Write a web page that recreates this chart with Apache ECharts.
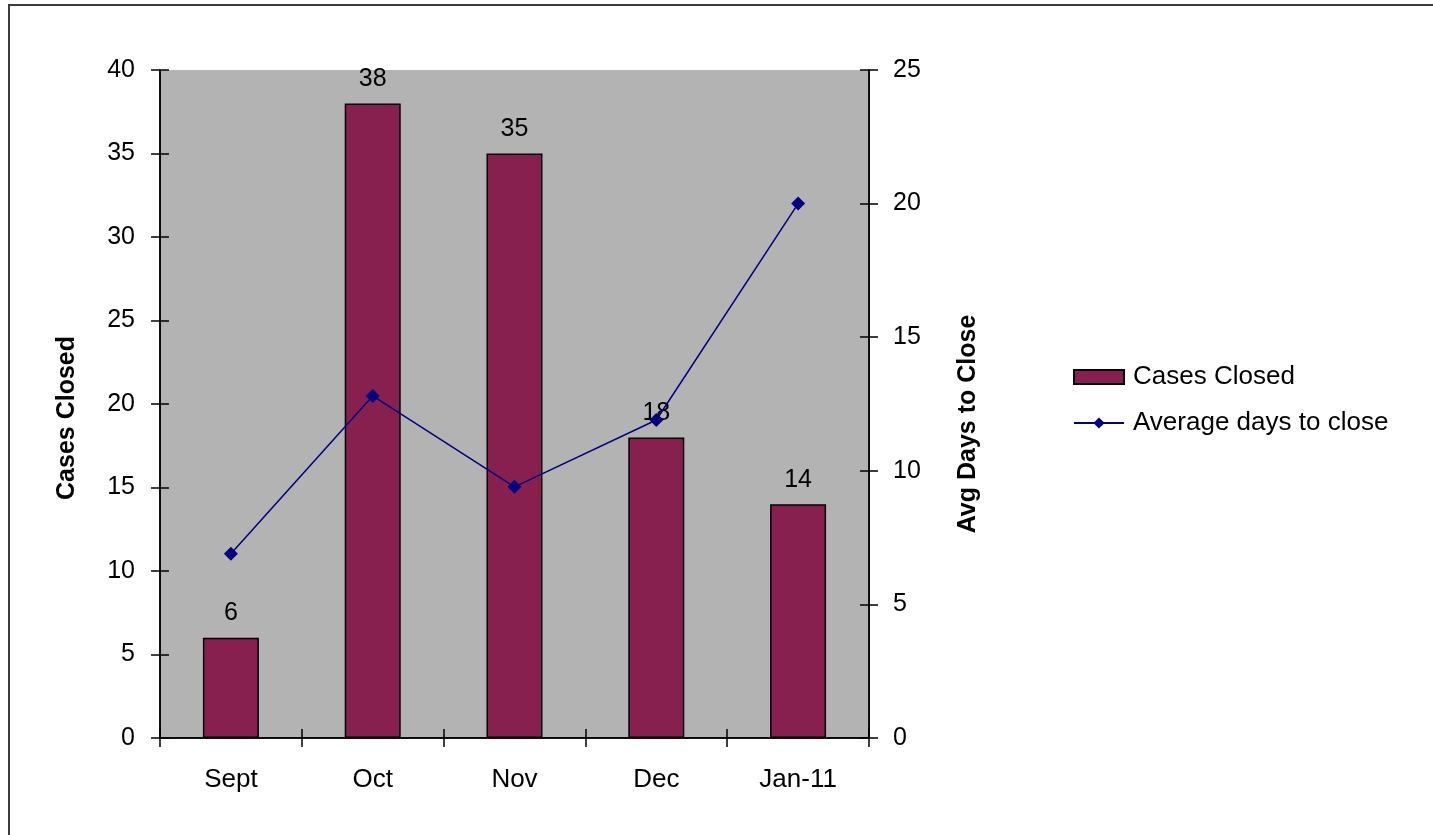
<!DOCTYPE html>
<html>
<head>
<meta charset="utf-8">
<script src="https://cdn.jsdelivr.net/npm/echarts@6/dist/echarts.min.js"></script>
<style>
  html, body { margin: 0; padding: 0; background: #fff; }
  #chart { width: 1433px; height: 835px; }
</style>
</head>
<body>
<div id="chart"></div>
<script>
// Monthly case figures
const months = ['Sept', 'Oct', 'Nov', 'Dec', 'Jan-11'];
const casesClosed = [6, 38, 35, 18, 14];
const avgDaysToClose = [6.9, 12.8, 9.4, 11.9, 20];

const FONT = '"Liberation Sans", Arial, sans-serif';
const txt = { color: '#000', fontFamily: FONT, fontSize: 25 };

const chart = echarts.init(document.getElementById('chart'), null, { renderer: 'canvas' });

// Ticks cross the axis line: the main grid's axes draw ticks outward and an
// overlaid twin grid (same rectangle, same lines, no labels) draws them inward.
const TICK = 9;
const tickOut = { show: true, inside: false, length: TICK, lineStyle: { color: '#000', width: 1.5 } };
const tickIn = { show: true, inside: true, length: TICK, lineStyle: { color: '#000', width: 1.5 } };
const axisLineStyle = { show: true, onZero: false, lineStyle: { color: '#000', width: 1.5 } };
const plotRect = { left: 160, right: 564, top: 70, bottom: 97 };

chart.setOption({
  backgroundColor: '#fff',
  animation: false,
  textStyle: { fontFamily: FONT },
  graphic: [{
    type: 'rect',
    shape: { x: 9, y: 5, width: 1500, height: 900 },
    style: { fill: 'none', stroke: '#3c3c3c', lineWidth: 2 },
    silent: true
  }],
  grid: [
    Object.assign({ show: true, backgroundColor: '#b3b3b3', borderWidth: 0 }, plotRect),
    Object.assign({ show: false }, plotRect)
  ],
  legend: {
    orient: 'vertical',
    left: 1073, top: 364,
    padding: 0,
    itemWidth: 50, itemHeight: 14, itemGap: 20,
    textStyle: Object.assign({}, txt, { fontSize: 26, padding: [0, 0, 0, 4] }),
    data: [
      { name: 'Cases Closed', icon: 'rect' },
      { name: 'Average days to close' }
    ]
  },
  xAxis: [{
    type: 'category',
    gridIndex: 0,
    data: months,
    position: 'bottom',
    boundaryGap: true,
    axisLine: axisLineStyle,
    axisTick: tickOut,
    axisLabel: Object.assign({}, txt, { fontSize: 26, margin: 29 }),
    splitLine: { show: false }
  }, {
    type: 'category',
    gridIndex: 1,
    data: months,
    position: 'bottom',
    boundaryGap: true,
    axisLine: axisLineStyle,
    axisTick: tickIn,
    axisLabel: { show: false },
    splitLine: { show: false }
  }],
  yAxis: [{
    type: 'value',
    gridIndex: 0,
    position: 'left',
    min: 0, max: 40, interval: 5,
    name: 'Cases Closed',
    nameLocation: 'middle',
    nameGap: 80,
    nameRotate: 90,
    nameTextStyle: { color: '#000', fontFamily: FONT, fontSize: 25, fontWeight: 'bold', padding: [0, 28, 0, 0] },
    axisLine: axisLineStyle,
    axisTick: tickOut,
    axisLabel: Object.assign({}, txt, { margin: 25 }),
    splitLine: { show: false }
  }, {
    type: 'value',
    gridIndex: 0,
    position: 'right',
    min: 0, max: 25, interval: 5,
    name: 'Avg Days to Close',
    nameLocation: 'middle',
    nameGap: 87,
    nameRotate: 90,
    nameTextStyle: { color: '#000', fontFamily: FONT, fontSize: 25, fontWeight: 'bold', padding: [0, 40, 0, 0] },
    axisLine: axisLineStyle,
    axisTick: tickOut,
    axisLabel: Object.assign({}, txt, { margin: 24 }),
    splitLine: { show: false }
  }, {
    type: 'value',
    gridIndex: 1,
    position: 'left',
    min: 0, max: 40, interval: 5,
    axisLine: axisLineStyle,
    axisTick: tickIn,
    axisLabel: { show: false },
    splitLine: { show: false }
  }, {
    type: 'value',
    gridIndex: 1,
    position: 'right',
    min: 0, max: 25, interval: 5,
    axisLine: axisLineStyle,
    axisTick: tickIn,
    axisLabel: { show: false },
    splitLine: { show: false }
  }],
  series: [{
    name: 'Cases Closed',
    type: 'bar',
    xAxisIndex: 0,
    yAxisIndex: 0,
    data: casesClosed,
    barWidth: 56,
    itemStyle: { color: '#87204f', borderColor: '#000', borderWidth: 1.5 },
    label: Object.assign({ show: true, position: 'top', distance: 12 }, txt)
  }, {
    name: 'Average days to close',
    type: 'line',
    xAxisIndex: 0,
    yAxisIndex: 1,
    data: avgDaysToClose,
    symbol: 'diamond',
    symbolSize: 14,
    lineStyle: { color: '#000080', width: 1.5 },
    itemStyle: { color: '#000080' },
    z: 3
  },
  // empty series that bind the tick-only twin axes
  { type: 'line', xAxisIndex: 1, yAxisIndex: 2, data: [], silent: true },
  { type: 'line', xAxisIndex: 1, yAxisIndex: 3, data: [], silent: true }]
});
</script>
</body>
</html>
